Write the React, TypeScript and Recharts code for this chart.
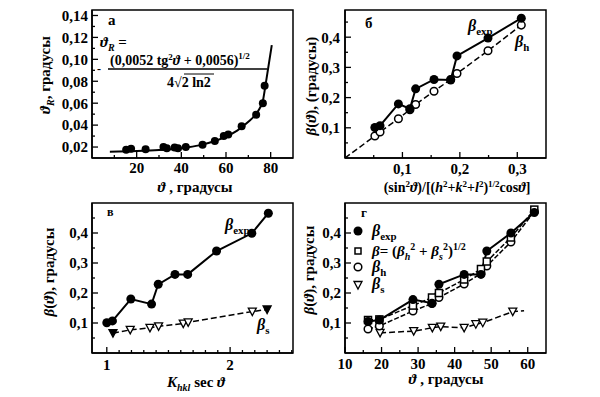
import { LineChart, Line, XAxis, YAxis, ReferenceArea } from "recharts";

// panel а: width vs angle
const aTheta = [15.3, 17.5, 24, 32, 33.5, 37, 38.5, 42, 49.5, 55, 59, 61, 67, 73.5, 76.5, 77.3];
const aWidth = [0.0175, 0.0185, 0.018, 0.02, 0.019, 0.0195, 0.019, 0.02, 0.022, 0.0255, 0.03, 0.0315, 0.039, 0.0495, 0.06, 0.076];
const aFitTheta = [8, 20, 30, 40, 48, 55, 60, 65, 70, 73, 75, 76.5, 77.5, 78.5, 79.5, 80.5];
const aFitWidth = [0.0158, 0.0163, 0.0172, 0.019, 0.0215, 0.0255, 0.0295, 0.035, 0.043, 0.049, 0.055, 0.062, 0.074, 0.087, 0.1, 0.113];

// panel б
const bX = [0.052, 0.061, 0.093, 0.113, 0.123, 0.155, 0.184, 0.195, 0.249, 0.307];
const bExp = [0.101, 0.107, 0.179, 0.163, 0.229, 0.26, 0.258, 0.338, 0.397, 0.463];
const bHX = [0, 0.052, 0.061, 0.093, 0.113, 0.123, 0.155, 0.184, 0.195, 0.249, 0.307];
const bH = [0, 0.073, 0.086, 0.13, 0.16, 0.177, 0.221, 0.26, 0.28, 0.355, 0.44];

// panel в
const vK = [1.0, 1.046, 1.195, 1.363, 1.417, 1.553, 1.656, 1.89, 2.176, 2.31];
const vExp = [0.101, 0.107, 0.18, 0.163, 0.229, 0.262, 0.262, 0.34, 0.399, 0.466];
const vSK = [1.05, 1.19, 1.35, 1.42, 1.62, 1.66, 2.18, 2.3];
const vS = [0.066, 0.077, 0.084, 0.089, 0.098, 0.102, 0.138, 0.145];

// panel г
const gTheta = [16.3, 19.4, 28.6, 33.8, 35.7, 42.6, 47.2, 48.8, 55.4, 61.8];
const gExp = [0.105, 0.11, 0.178, 0.166, 0.229, 0.262, 0.262, 0.34, 0.4, 0.468];
const gSum = [0.11, 0.112, 0.158, 0.185, 0.2, 0.245, 0.28, 0.305, 0.385, 0.478];
const gH = [0.08, 0.09, 0.14, 0.165, 0.185, 0.23, 0.265, 0.29, 0.37, 0.472];
const gSTheta = [19.6, 28.8, 33.9, 36.2, 42.6, 45.8, 47.7, 55.9, 59];
const gS = [0.067, 0.073, 0.084, 0.088, 0.084, 0.096, 0.101, 0.138, 0.141];

const zip = (xs: number[], ys: number[]) => xs.map((x, i) => ({ x, y: ys[i] }));

const serif = '"Liberation Serif", "DejaVu Serif", serif';
const tickFont = { fontFamily: serif, fontSize: 15, fontWeight: 700, fill: "#000" };
const axisLine = { stroke: "#000", strokeWidth: 1.5 };

const fmt = (v: number, d: number) => v.toFixed(d).replace(".", ",");
const near = (list: number[], v: number) => list.some((t) => Math.abs(t - v) < 1e-6);

function xTick(majors: number[], d: number, m: number) {
  return (p: any) => {
    const v = p.payload.value;
    const major = near(majors, v);
    const y0 = p.y - m;
    return (
      <g>
        <line x1={p.x} x2={p.x} y1={y0} y2={y0 - (major ? 6 : 3)} stroke="#000" strokeWidth={1.3} />
        {major && (
          <text x={p.x} y={p.y} dy="0.71em" textAnchor="middle" style={tickFont}>
            {fmt(v, d)}
          </text>
        )}
      </g>
    );
  };
}

function yTick(majors: number[], d: number, m: number) {
  return (p: any) => {
    const v = p.payload.value;
    const major = near(majors, v);
    const x0 = p.x + m;
    return (
      <g>
        <line x1={x0} x2={x0 + (major ? 6 : 3)} y1={p.y} y2={p.y} stroke="#000" strokeWidth={1.3} />
        {major && (
          <text x={p.x} y={p.y} dy="0.355em" textAnchor="end" style={tickFont}>
            {fmt(v, d)}
          </text>
        )}
      </g>
    );
  };
}

const filled = (r: number) => (p: any) =>
  p.cx == null ? <g key={p.index} /> : <circle key={p.index} cx={p.cx} cy={p.cy} r={r} fill="#000" />;

const open = (r: number, skipFirst = false) => (p: any) =>
  p.cx == null || (skipFirst && p.index === 0) ? (
    <g key={p.index} />
  ) : (
    <circle key={p.index} cx={p.cx} cy={p.cy} r={r} fill="#fff" stroke="#000" strokeWidth={1.5} />
  );

const square = (p: any) =>
  p.cx == null ? <g key={p.index} /> : (
    <rect key={p.index} x={p.cx - 3.5} y={p.cy - 3.5} width={7} height={7} fill="#fff" stroke="#000" strokeWidth={1.5} />
  );

const tri = (filledIdx: number[], hideIdx: number[] = []) => (p: any) => {
  if (p.cx == null || hideIdx.includes(p.index)) return <g key={p.index} />;
  const f = filledIdx.includes(p.index);
  return (
    <path
      key={p.index}
      d={`M${p.cx - 4},${p.cy - 3.5}L${p.cx + 4},${p.cy - 3.5}L${p.cx},${p.cy + 4}Z`}
      fill={f ? "#000" : "#fff"}
      stroke="#000"
      strokeWidth={1.3}
    />
  );
};

const aXMaj = [20, 40, 60, 80];
const aXMin = [10, 30, 50, 70];
const aYMaj = [0.02, 0.04, 0.06, 0.08, 0.1, 0.12, 0.14];
const aYMin = [0.03, 0.05, 0.07, 0.09, 0.11, 0.13];

const bXMaj = [0.1, 0.2, 0.3];
const bXMin = [0.05, 0.15, 0.25];
const betaMaj = [0.1, 0.2, 0.3, 0.4];
const betaMin = [0.05, 0.15, 0.25, 0.35, 0.45];

const vXMaj = [1, 2];
const vXMin = [1.1, 1.2, 1.3, 1.4, 1.5, 1.6, 1.7, 1.8, 1.9, 2.1, 2.2, 2.3, 2.4, 2.5];

const gXMaj = [10, 20, 30, 40, 50, 60];
const gXMin = [15, 25, 35, 45, 55];

function Panel(props: {
  left: number;
  top: number;
  height: number;
  yW: number;
  xH: number;
  mTop: number;
  mRight: number;
  xDom: [number, number];
  yDom: [number, number];
  xMaj: number[];
  xMin: number[];
  xD: number;
  xM: number;
  yMaj: number[];
  yMin: number[];
  yD: number;
  yM: number;
  children: any;
}) {
  const p = props;
  return (
    <div style={{ position: "absolute", left: p.left, top: p.top }}>
      <LineChart width={300} height={p.height} margin={{ top: p.mTop, right: p.mRight, left: 0, bottom: 0 }}>
        <XAxis
          type="number"
          dataKey="x"
          domain={p.xDom}
          allowDataOverflow
          ticks={[...p.xMaj, ...p.xMin].sort((a, b) => a - b)}
          interval={0}
          tick={xTick(p.xMaj, p.xD, p.xM)}
          tickLine={false}
          tickSize={0}
          tickMargin={p.xM}
          height={p.xH}
          axisLine={axisLine}
        />
        <YAxis
          type="number"
          domain={p.yDom}
          allowDataOverflow
          ticks={[...p.yMaj, ...p.yMin].sort((a, b) => a - b)}
          interval={0}
          tick={yTick(p.yMaj, p.yD, p.yM)}
          tickLine={false}
          tickSize={0}
          tickMargin={p.yM}
          width={p.yW}
          axisLine={axisLine}
        />
        <ReferenceArea x1={p.xDom[0]} x2={p.xDom[1]} y1={p.yDom[0]} y2={p.yDom[1]} fill="none" stroke="#000" strokeWidth={1.5} fillOpacity={0} />
        {p.children}
      </LineChart>
    </div>
  );
}

const T = { fontFamily: serif, fontWeight: 700, fill: "#000" } as const;

function Beta({ x, y, sub, size = 16 }: { x: number; y: number; sub: string; size?: number }) {
  return (
    <text x={x} y={y} style={{ ...T, fontSize: size }}>
      <tspan fontStyle="italic">β</tspan>
      <tspan dy={4} fontSize={size * 0.68}>{sub}</tspan>
    </text>
  );
}

export default function App() {
  return (
    <div style={{ position: "absolute", left: 0, top: 0, width: 600, height: 397, background: "#fff", overflow: "hidden" }}>
      {/* а */}
      <Panel left={0} top={0} height={195} yW={92} xH={37} mTop={10} mRight={7} xDom={[0, 90]} yDom={[0.01, 0.145]}
        xMaj={aXMaj} xMin={aXMin} xD={0} xM={4} yMaj={aYMaj} yMin={aYMin} yD={2} yM={4}>
        <Line data={zip(aFitTheta, aFitWidth)} dataKey="y" type="monotone" stroke="#000" strokeWidth={2} dot={false} isAnimationActive={false} />
        <Line data={zip(aTheta, aWidth)} dataKey="y" stroke="none" dot={filled(4)} isAnimationActive={false} />
      </Panel>
      {/* б */}
      <Panel left={300} top={0} height={195} yW={45} xH={37} mTop={10} mRight={54} xDom={[0, 0.35]} yDom={[0, 0.49]}
        xMaj={bXMaj} xMin={bXMin} xD={1} xM={5} yMaj={betaMaj} yMin={betaMin} yD={1} yM={5}>
        <Line data={zip(bHX, bH)} dataKey="y" stroke="#000" strokeWidth={1.5} strokeDasharray="6 3" dot={open(3.8, true)} isAnimationActive={false} />
        <Line data={zip(bX, bExp)} dataKey="y" stroke="#000" strokeWidth={2} dot={filled(4.5)} isAnimationActive={false} />
      </Panel>
      {/* в */}
      <Panel left={0} top={195} height={202} yW={92} xH={44} mTop={8} mRight={7} xDom={[0.88, 2.51]} yDom={[0, 0.5]}
        xMaj={vXMaj} xMin={vXMin} xD={0} xM={6} yMaj={betaMaj} yMin={betaMin} yD={1} yM={4}>
        <Line data={zip(vSK, vS)} dataKey="y" stroke="#000" strokeWidth={1.5} strokeDasharray="6 3" dot={tri([0, vSK.length - 1])} isAnimationActive={false} />
        <Line data={zip(vK, vExp)} dataKey="y" stroke="#000" strokeWidth={2} dot={filled(4.5)} isAnimationActive={false} />
      </Panel>
      {/* г */}
      <Panel left={300} top={195} height={202} yW={45} xH={44} mTop={8} mRight={54} xDom={[10, 65]} yDom={[0, 0.5]}
        xMaj={gXMaj} xMin={gXMin} xD={0} xM={5} yMaj={betaMaj} yMin={betaMin} yD={1} yM={4}>
        <Line data={zip(gSTheta, gS)} dataKey="y" stroke="#000" strokeWidth={1.5} strokeDasharray="6 3" dot={tri([], [gSTheta.length - 1])} isAnimationActive={false} />
        <Line data={zip(gTheta, gH)} dataKey="y" stroke="#000" strokeWidth={1.5} strokeDasharray="5 2" dot={open(3.8)} isAnimationActive={false} />
        <Line data={zip(gTheta, gSum)} dataKey="y" stroke="#000" strokeWidth={1.5} strokeDasharray="5 2" dot={square} isAnimationActive={false} />
        <Line data={zip(gTheta, gExp)} dataKey="y" stroke="#000" strokeWidth={2} dot={filled(4.5)} isAnimationActive={false} />
      </Panel>

      <svg width={600} height={397} style={{ position: "absolute", left: 0, top: 0, pointerEvents: "none" }}>
        {/* а annotations */}
        <text x={108} y={25} style={{ ...T, fontSize: 15 }}>а</text>
        <text x={100} y={47} style={{ ...T, fontSize: 15 }}>
          <tspan fontStyle="italic">ϑ</tspan>
          <tspan dy={4} fontSize={10} fontStyle="italic">R</tspan>
          <tspan dy={-4}> =</tspan>
        </text>
        <text x={97} y={73} style={{ ...T, fontSize: 12 }}>-</text>
        <text x={110} y={65} style={{ ...T, fontSize: 14 }}>
          (0,0052 tg<tspan dy={-5} fontSize={9}>2</tspan>
          <tspan dy={5} fontStyle="italic">ϑ</tspan> + 0,0056)<tspan dy={-6} fontSize={9}>1/2</tspan>
        </text>
        <line x1={108} x2={267} y1={69} y2={69} stroke="#000" strokeWidth={1.3} />
        <text x={167} y={87} style={{ ...T, fontSize: 14 }}>4√2 ln2</text>
        <line x1={184} x2={214} y1={74} y2={74} stroke="#000" strokeWidth={1} />
        <text transform="translate(50,75) rotate(-90)" textAnchor="middle" style={{ ...T, fontSize: 15 }}>
          <tspan fontStyle="italic">ϑ</tspan>
          <tspan dy={4} fontSize={10} fontStyle="italic">R</tspan>
          <tspan dy={-4}>, градусы</tspan>
        </text>
        <text x={195} y={192} textAnchor="middle" style={{ ...T, fontSize: 15 }}>
          <tspan fontStyle="italic">ϑ</tspan> , градусы
        </text>

        {/* б annotations */}
        <text x={365} y={28} style={{ ...T, fontSize: 15 }}>б</text>
        <Beta x={468} y={31} sub="exp" />
        <Beta x={515} y={47} sub="h" />
        <text transform="translate(316,86) rotate(-90)" textAnchor="middle" style={{ ...T, fontSize: 15 }}>
          <tspan fontStyle="italic">β</tspan>(<tspan fontStyle="italic">ϑ</tspan>), (градусы)
        </text>
        <text x={457} y={192} textAnchor="middle" style={{ ...T, fontSize: 14 }}>
          (sin<tspan dy={-5} fontSize={9}>2</tspan>
          <tspan dy={5} fontStyle="italic">ϑ</tspan>)/[(<tspan fontStyle="italic">h</tspan>
          <tspan dy={-5} fontSize={9}>2</tspan>
          <tspan dy={5}>+</tspan><tspan fontStyle="italic">k</tspan>
          <tspan dy={-5} fontSize={9}>2</tspan>
          <tspan dy={5}>+</tspan><tspan fontStyle="italic">l</tspan>
          <tspan dy={-5} fontSize={9}>2</tspan>
          <tspan dy={5}>)</tspan>
          <tspan dy={-5} fontSize={9}>1/2</tspan>
          <tspan dy={5}>cos</tspan><tspan fontStyle="italic">ϑ</tspan>]
        </text>

        {/* в annotations */}
        <text x={107} y={216} style={{ ...T, fontSize: 12 }}>в</text>
        <Beta x={225} y={230} sub="exp" />
        <Beta x={257} y={330} sub="s" />
        <text transform="translate(54,272) rotate(-90)" textAnchor="middle" style={{ ...T, fontSize: 15 }}>
          <tspan fontStyle="italic">β</tspan>(<tspan fontStyle="italic">ϑ</tspan>),  градусы
        </text>
        <text x={196} y={387} textAnchor="middle" style={{ ...T, fontSize: 15 }}>
          <tspan fontStyle="italic">K</tspan>
          <tspan dy={4} fontSize={10} fontStyle="italic">hkl</tspan>
          <tspan dy={-4}> sec </tspan>
          <tspan fontStyle="italic">ϑ</tspan>
        </text>

        {/* г annotations and legend */}
        <text x={361} y={217} style={{ ...T, fontSize: 13 }}>г</text>
        <circle cx={358} cy={231} r={4.5} fill="#000" />
        <Beta x={372} y={236} sub="exp" />
        <rect x={355} y={248} width={6} height={6} fill="#fff" stroke="#000" strokeWidth={1.5} />
        <text x={372} y={256} style={{ ...T, fontSize: 15 }}>
          <tspan fontStyle="italic">β</tspan>= (<tspan fontStyle="italic">β</tspan>
          <tspan dy={4} fontSize={10} fontStyle="italic">h</tspan>
          <tspan dy={-10} fontSize={10}>2</tspan>
          <tspan dy={6}> + </tspan>
          <tspan fontStyle="italic">β</tspan>
          <tspan dy={4} fontSize={10} fontStyle="italic">s</tspan>
          <tspan dy={-10} fontSize={10}>2</tspan>
          <tspan dy={6}>)</tspan>
          <tspan dy={-6} fontSize={10}>1/2</tspan>
        </text>
        <circle cx={358} cy={267} r={3.8} fill="#fff" stroke="#000" strokeWidth={1.5} />
        <Beta x={372} y={272} sub="h" />
        <path d="M354,281.5L362,281.5L358,289Z" fill="#fff" stroke="#000" strokeWidth={1.3} />
        <Beta x={372} y={289} sub="s" />
        <text transform="translate(314,270) rotate(-90)" textAnchor="middle" style={{ ...T, fontSize: 15 }}>
          <tspan fontStyle="italic">β</tspan>(<tspan fontStyle="italic">ϑ</tspan>),  градусы
        </text>
        <text x={446} y={384} textAnchor="middle" style={{ ...T, fontSize: 15 }}>
          <tspan fontStyle="italic">ϑ</tspan> , градусы
        </text>
      </svg>
    </div>
  );
}
